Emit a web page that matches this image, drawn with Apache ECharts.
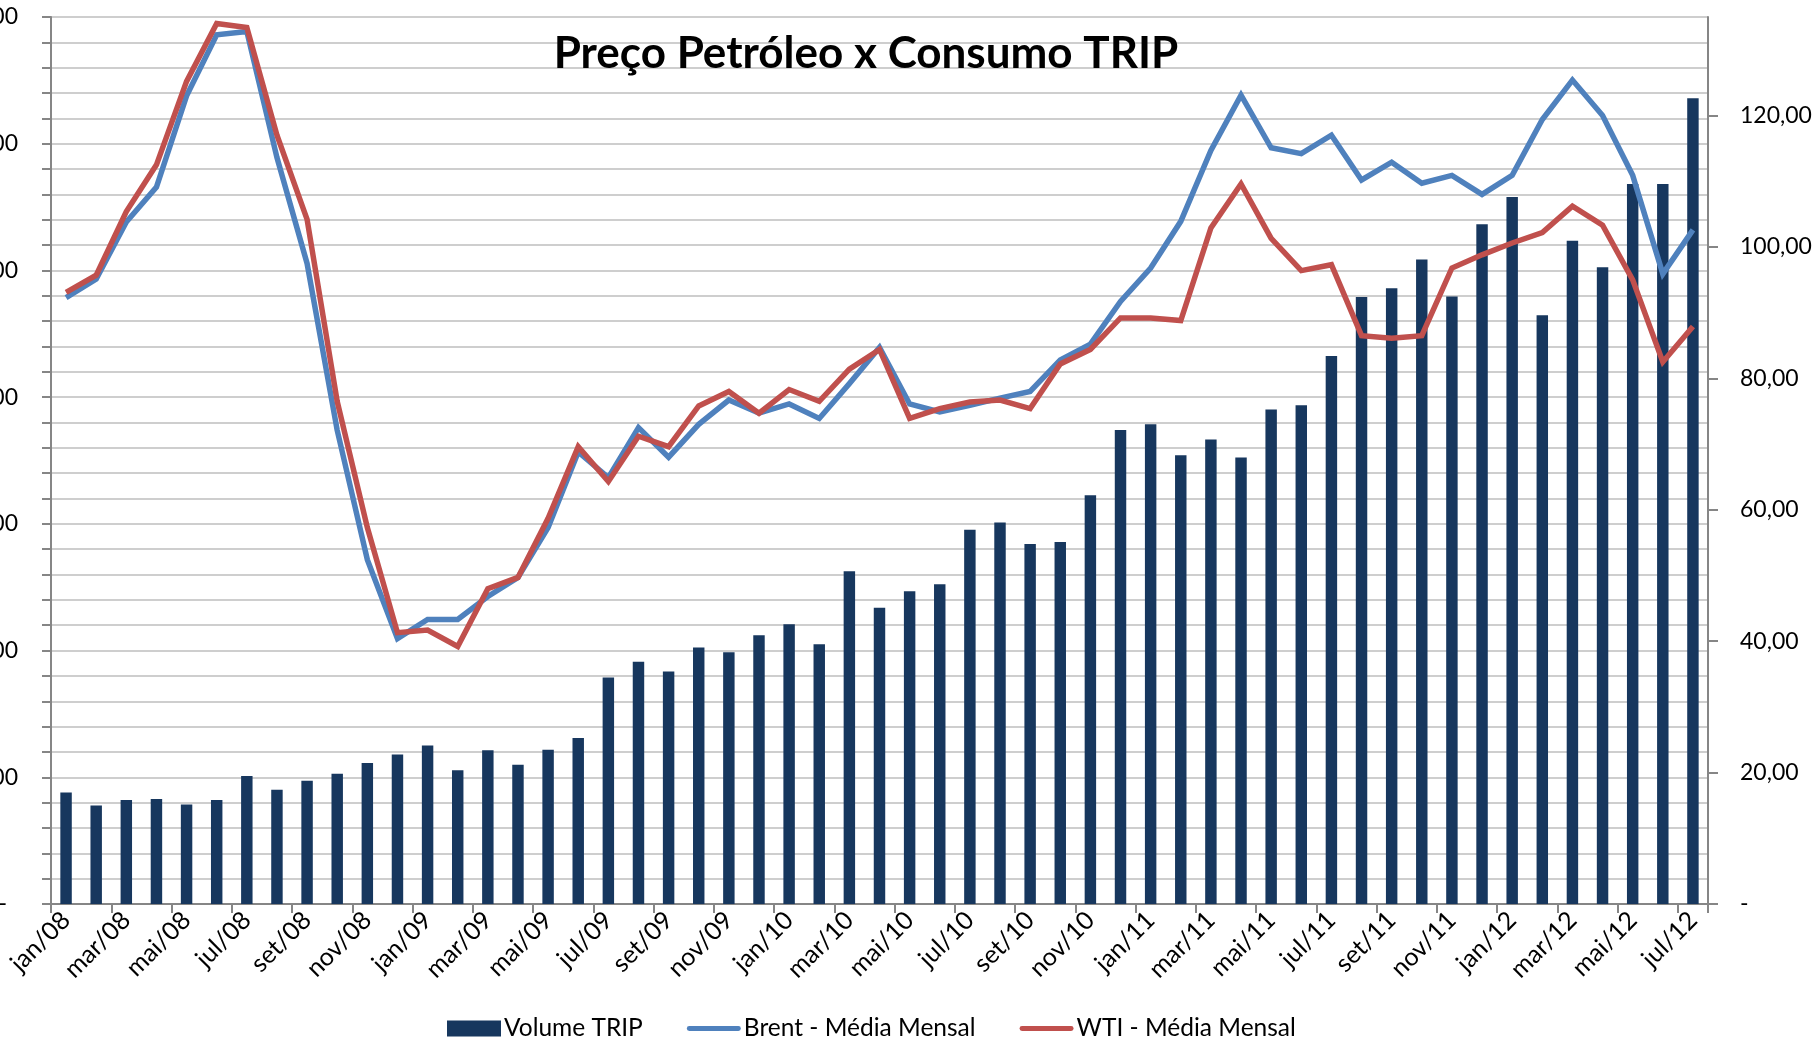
<!DOCTYPE html>
<html>
<head>
<meta charset="utf-8">
<script src="https://cdn.jsdelivr.net/npm/echarts@6/dist/echarts.min.js"></script>
<style>
html,body{margin:0;padding:0;background:#fff;}
#c{width:1818px;height:1038px;}
</style>
</head>
<body>
<div id="c"></div>
<script>
const categories = [
 'jan/08','fev/08','mar/08','abr/08','mai/08','jun/08','jul/08','ago/08','set/08','out/08','nov/08','dez/08',
 'jan/09','fev/09','mar/09','abr/09','mai/09','jun/09','jul/09','ago/09','set/09','out/09','nov/09','dez/09',
 'jan/10','fev/10','mar/10','abr/10','mai/10','jun/10','jul/10','ago/10','set/10','out/10','nov/10','dez/10',
 'jan/11','fev/11','mar/11','abr/11','mai/11','jun/11','jul/11','ago/11','set/11','out/11','nov/11','dez/11',
 'jan/12','fev/12','mar/12','abr/12','mai/12','jun/12','jul/12'
];
const volumeTRIP = [
 440,389,410,414,393,410,505,451,486,514,556,590,
 625,528,607,549,609,655,894,956,917,1012,993,1060,
 1104,1025,1313,1169,1234,1262,1477,1505,1421,1428,1613,1870,
 1893,1771,1833,1762,1951,1968,2162,2395,2430,2543,2397,2682,
 2790,2323,2617,2513,2841,2841,3179
];
const brent = [
 92.3,95.1,103.8,109.1,123.0,132.3,132.8,113.6,97.5,72.1,52.4,40.4,
 43.3,43.3,46.8,49.7,57.3,68.8,64.9,72.5,68.0,73.0,76.7,74.7,
 76.1,73.9,79.2,84.7,76.1,74.9,75.9,77.0,78.0,82.8,85.2,91.7,
 96.8,103.9,114.7,123.1,115.1,114.2,117.0,110.2,112.9,109.7,110.9,108.0,
 110.9,119.4,125.4,120.0,110.9,95.9,102.6
];
const wti = [
 93.1,95.7,105.4,112.5,125.2,134.0,133.4,117.0,104.2,76.5,57.3,41.3,
 41.7,39.2,48.0,49.7,58.7,69.6,64.3,71.2,69.6,75.8,78.0,74.7,
 78.3,76.5,81.4,84.4,73.9,75.4,76.4,76.7,75.4,82.2,84.4,89.2,
 89.2,88.8,102.9,109.6,101.3,96.4,97.3,86.5,86.1,86.5,96.8,98.8,
 100.6,102.2,106.2,103.3,95.0,82.5,87.9
];
const rightTicks = [0,20,40,60,80,100,120];

const FONT = 'Lato';
const LINE_ICON = 'path://M2.5,0 L53.5,0 A2.5,2.5 0 0 1 53.5,5 L2.5,5 A2.5,2.5 0 0 1 2.5,0 Z';
const chart = echarts.init(document.getElementById('c'), null, {renderer:'canvas'});
chart.setOption({
  backgroundColor:'#ffffff',
  animation:false,
  title:{
    text:'Preço Petróleo x Consumo TRIP',
    left:861, top:27, textAlign:'center',
    textStyle:{fontFamily:FONT,fontWeight:'bold',fontSize:44,color:'#000'}
  },
  legend:{
    left:442, top:1011,
    itemWidth:54, itemHeight:16, itemGap:44, symbolKeepAspect:true,
    textStyle:{fontFamily:FONT,fontSize:24.5,color:'#000',padding:[0,0,0,-2]},
    data:[
      {name:'Volume TRIP',icon:'rect'},
      {name:'Brent - Média Mensal',icon:LINE_ICON},
      {name:'WTI - Média Mensal',icon:LINE_ICON}
    ]
  },
  grid:{left:51,right:110,top:17,bottom:134,outerBoundsMode:'none',containLabel:false},
  xAxis:{
    type:'category', data:categories, boundaryGap:true,
    axisLine:{lineStyle:{color:'#868686',width:2}},
    axisTick:{show:true,interval:1,length:9,lineStyle:{color:'#868686',width:2}},
    axisLabel:{interval:1,rotate:45,margin:12,fontFamily:FONT,fontSize:25,color:'#000'},
    splitLine:{show:false}
  },
  yAxis:[
    {
      type:'value', min:0, max:3500, interval:100, position:'left',
      axisLine:{show:true,lineStyle:{color:'#868686',width:2}},
      axisTick:{show:true,length:9,lineStyle:{color:'#868686',width:2}},
      axisLabel:{
        margin:33, fontFamily:FONT, fontSize:23, color:'#000',
        formatter:function(v){
          if (v===0) return '{z|-}';
          if (v%500!==0) return '';
          return (v>=1000? Math.floor(v/1000)+'.'+String(v%1000).padStart(3,'0') : String(v));
        },
        rich:{z:{fontFamily:FONT,fontSize:23,color:'#000',padding:[0,11,0,0]}}
      },
      splitLine:{show:true,lineStyle:{color:'#BEBEBE',width:1.6}}
    },
    {
      type:'value', min:0, max:135, interval:20, position:'right',
      axisLine:{show:true,lineStyle:{color:'#868686',width:2}},
      axisTick:{show:true,length:10,customValues:rightTicks,lineStyle:{color:'#868686',width:2}},
      axisLabel:{
        margin:32, fontFamily:FONT, fontSize:23, color:'#000', customValues:rightTicks,
        formatter:function(v){ return v===0 ? '-' : v.toFixed(2).replace('.',','); }
      },
      splitLine:{show:false}
    }
  ],
  series:[
    {
      name:'Volume TRIP', type:'bar', yAxisIndex:0, data:volumeTRIP,
      barWidth:'38%', itemStyle:{color:'#17375E'}
    },
    {
      name:'Brent - Média Mensal', type:'line', yAxisIndex:1, data:brent,
      symbol:'none', lineStyle:{color:'#4F81BD',width:5.5,join:'miter'}, itemStyle:{color:'#4F81BD'}
    },
    {
      name:'WTI - Média Mensal', type:'line', yAxisIndex:1, data:wti,
      symbol:'none', lineStyle:{color:'#C0504D',width:5.5,join:'miter'}, itemStyle:{color:'#C0504D'}
    }
  ]
});
</script>
</body>
</html>
